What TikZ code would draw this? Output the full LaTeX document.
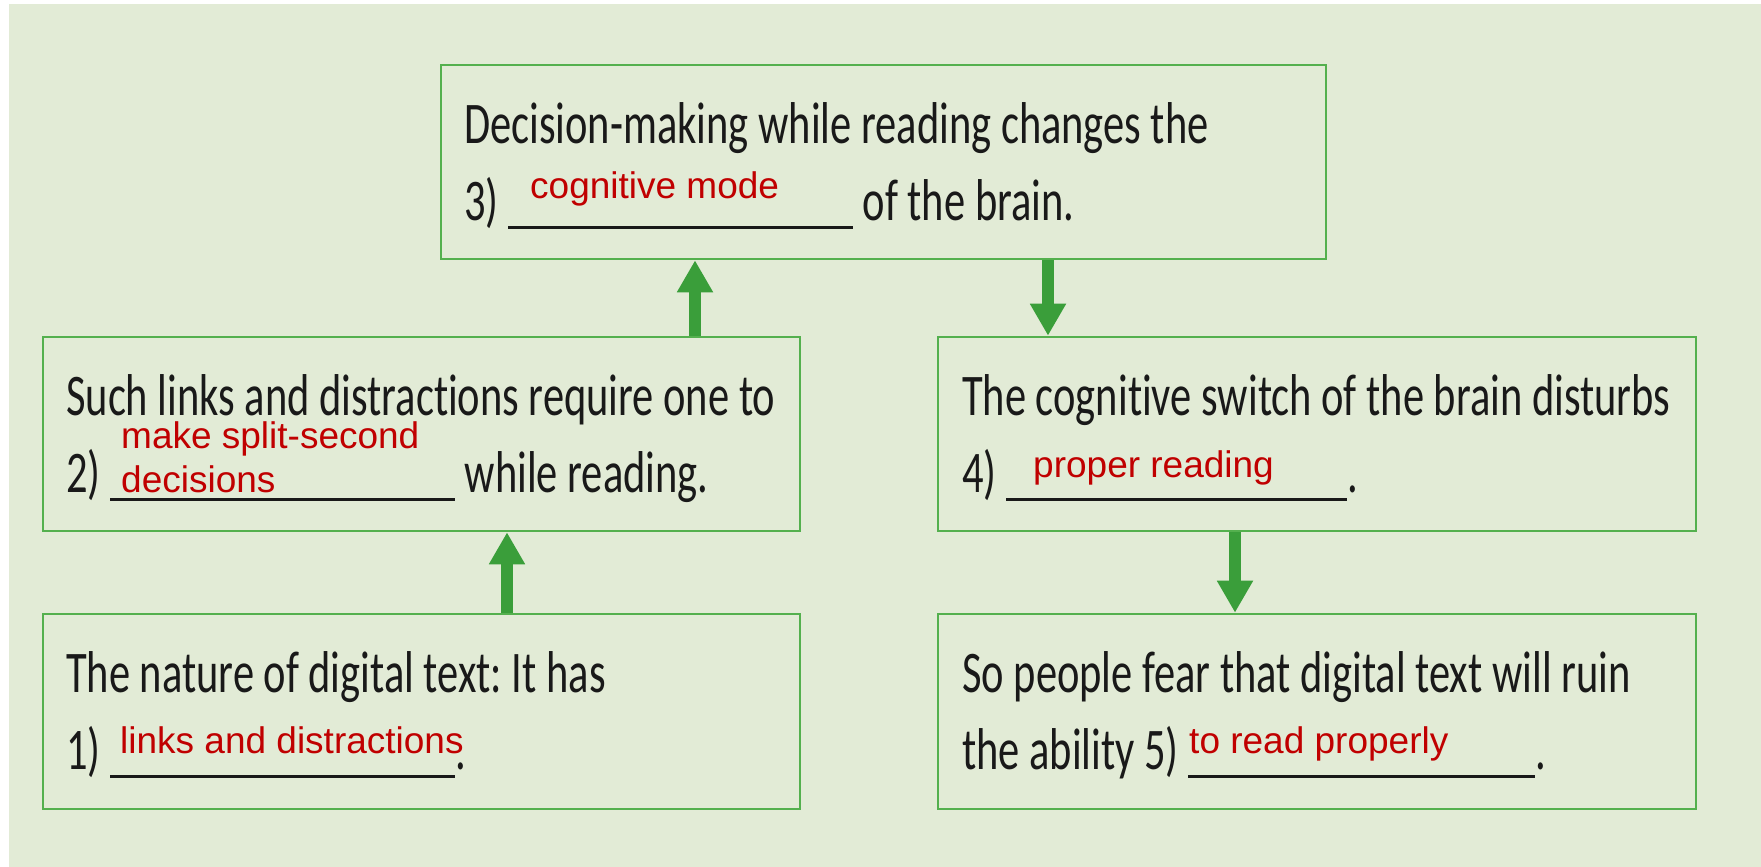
\documentclass[tikz,border=0pt]{standalone}
\usepackage{fontspec}
\setmainfont{Carlito}[FakeStretch=0.72,Ligatures=NoCommon]
\newfontfamily\redfont{Liberation Sans}
\usetikzlibrary{arrows.meta}
\definecolor{bgc}{RGB}{226,235,214}
\definecolor{boxc}{RGB}{84,176,78}
\definecolor{arrc}{RGB}{58,158,58}
\definecolor{ansc}{RGB}{192,0,0}
\definecolor{txtc}{RGB}{25,25,25}
\newcommand{\blank}[1]{\rule[-9pt]{#1}{2.8pt}}
\frenchspacing
\tikzset{
  box/.style={draw=boxc, line width=2.6pt, rectangle, inner sep=0pt},
  txt/.style={anchor=base west, inner sep=0pt, text=txtc, font=\fontsize{59}{70}\selectfont},
  ans/.style={anchor=base west, inner sep=0pt, text=ansc, font=\redfont\fontsize{37}{44}\selectfont},
  bigarrow/.style={draw=arrc, line width=12pt, -{Triangle[width=34pt,length=32pt]}}
}
\begin{document}
\begin{tikzpicture}[x=1pt,y=-1pt]
\useasboundingbox (0,0) rectangle (1761,867);
\fill[bgc] (9,4) rectangle (1761,867);
% boxes
\node[box, minimum width=885pt, minimum height=194pt] (top) at (883.5,162) {};
\node[box, minimum width=757pt, minimum height=194pt] (lm) at (421.5,434) {};
\node[box, minimum width=758pt, minimum height=194pt] (rm) at (1317,434) {};
\node[box, minimum width=757pt, minimum height=195pt] (lb) at (421.5,711.5) {};
\node[box, minimum width=758pt, minimum height=195pt] (rb) at (1317,711.5) {};
% arrows
\coordinate (x1) at (695,0);
\coordinate (x2) at (1048,0);
\coordinate (x3) at (507,0);
\coordinate (x4) at (1235,0);
\draw[bigarrow] (lm.north -| x1) -- (top.south -| x1);
\draw[bigarrow] (top.south -| x2) -- (rm.north -| x2);
\draw[bigarrow] (lb.north -| x3) -- (lm.south -| x3);
\draw[bigarrow] (rm.south -| x4) -- (rb.north -| x4);
% top box text
\node[txt] (t1a) at (464,143) {Decision-making while reading changes the};
\node[txt] (t1b) at (464,220) {3) \blank{345pt} of the brain.};
\node[ans] (a3) at (530,198) {cognitive mode};
% left middle
\node[txt] (t2a) at (66,415) {Such links and distractions require one to};
\node[txt] (t2b) at (66,492) {2) \blank{345pt} while reading.};
\node[ans] (a2a) at (121,448) {make split-second};
\node[ans] (a2b) at (121,492) {decisions};
% right middle
\node[txt] (t4a) at (962,415) {The cognitive switch of the brain disturbs};
\node[txt] (t4b) at (962,492) {4) \blank{341pt}.};
\node[ans] (a4) at (1033,477) {proper reading};
% bottom left
\node[txt] (t1c) at (66,692) {The nature of digital text: It has};
\node[txt] (t1d) at (66,769) {1) \blank{345pt}.};
\node[ans] (a1) at (120,753) {links and distractions};
% bottom right
\node[txt] (t5a) at (962,692) {So people fear that digital text will ruin};
\node[txt] (t5b) at (962,769) {the ability 5) \blank{347pt}.};
\node[ans] (a5) at (1189,753) {to read properly};
\end{tikzpicture}
\end{document}
